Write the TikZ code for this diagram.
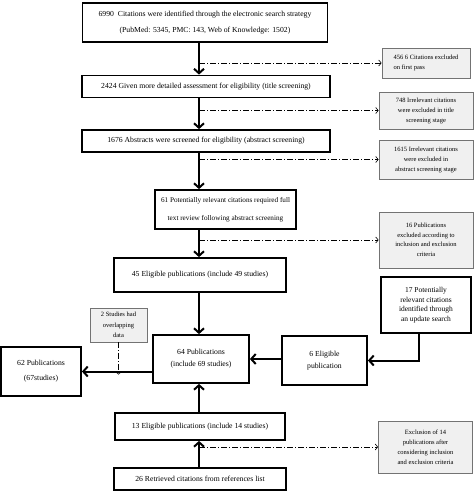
\documentclass[tikz,border=0pt]{standalone}
\usepackage{fontspec}
\setmainfont{Liberation Serif}
\usetikzlibrary{arrows.meta}
\begin{document}
\begin{tikzpicture}[x=1pt,y=-1pt,
 mainbox/.style={draw=black,line width=1.8pt,fill=white,align=center,inner sep=1pt,font=\fontsize{7.7}{10}\selectfont},
 greybox/.style={draw=black!55,line width=0.8pt,fill=black!6,align=center,inner sep=1pt,font=\fontsize{6.5}{10}\selectfont},
 mainarrow/.style={line width=2pt,-{Straight Barb[length=4.5pt,width=10pt]}},
 ddarrow/.style={line width=0.6pt,dash pattern=on 6pt off 2pt on 1pt off 2pt,-{Straight Barb[length=2.5pt,width=6pt]}},
]
\useasboundingbox (0,0) rectangle (475,493);
\coordinate (trunk) at (199,0);
\coordinate (upd) at (419,0);

\node[mainbox,minimum width=245pt,minimum height=39pt,font=\fontsize{7.7}{16}\selectfont] (b1) at (205,22.5)
 {6990\ \ Citations were identified through the electronic search strategy\\(PubMed: 5345, PMC: 143, Web of Knowledge: 1502)};
\node[greybox,minimum width=88pt,minimum height=30pt,align=left] (x1) at (426,63)
 {456 6 Citations excluded\\on first pass};
\node[mainbox,minimum width=248pt,minimum height=22pt] (b2) at (206,86.5)
 {2424 Given more detailed assessment for eligibility (title screening)};
\node[greybox,minimum width=94pt,minimum height=37pt] (x2) at (426,110.5)
 {748 Irrelevant citations\\were excluded in title\\screening stage};
\node[mainbox,minimum width=248pt,minimum height=22pt] (b3) at (206,141)
 {1676 Abstracts were screened for eligibility (abstract screening)};
\node[greybox,minimum width=94pt,minimum height=39pt] (x3) at (426,159.5)
 {1615 Irrelevant citations\\were excluded in\\abstract screening stage};
\node[mainbox,minimum width=141pt,minimum height=39pt,font=\fontsize{7.2}{18}\selectfont] (b4) at (225.5,209.5)
 {61 Potentially relevant citations required full\\text review following abstract screening};
\node[greybox,minimum width=94pt,minimum height=56pt,font=\fontsize{6.5}{9.5}\selectfont] (x4) at (426,240)
 {16 Publications\\excluded according to\\inclusion and exclusion\\criteria};
\node[mainbox,minimum width=172pt,minimum height=34pt] (b5) at (200,275)
 {45 Eligible publications (include 49 studies)};
\node[mainbox,minimum width=90pt,minimum height=56pt,font=\fontsize{7.5}{9.5}\selectfont] (b8) at (426,305)
 {17 Potentially\\relevant citations\\identified through\\an update search};
\node[greybox,minimum width=57pt,minimum height=34pt,font=\fontsize{6.5}{10.5}\selectfont] (x5) at (118.5,325)
 {2 Studies had\\overlapping\\data};
\node[mainbox,minimum width=96pt,minimum height=48pt,font=\fontsize{7.7}{12}\selectfont] (b6) at (201,359)
 {64 Publications\\(include 69 studies)};
\node[mainbox,minimum width=85pt,minimum height=49pt,font=\fontsize{7.7}{12}\selectfont] (b7) at (324.5,360.5)
 {6 Eligible\\publication};
\node[mainbox,minimum width=80pt,minimum height=49pt,font=\fontsize{7.7}{15}\selectfont] (b9) at (41,371.5)
 {62 Publications\\(67studies)};
\node[mainbox,minimum width=170pt,minimum height=27pt] (b10) at (200,426.5)
 {13 Eligible publications (include 14 studies)};
\node[greybox,minimum width=94pt,minimum height=52pt,font=\fontsize{6.5}{10}\selectfont] (x6) at (425.5,447)
 {Exclusion of 14\\publications after\\considering inclusion\\and exclusion criteria};
\node[mainbox,minimum width=172pt,minimum height=22pt] (b11) at (200,479)
 {26 Retrieved citations from references list};

% main trunk
\draw[mainarrow] (trunk |- b1.south) -- (trunk |- b2.north);
\draw[mainarrow] (trunk |- b2.south) -- (trunk |- b3.north);
\draw[mainarrow] (trunk |- b3.south) -- (trunk |- b4.north);
\draw[mainarrow] (trunk |- b4.south) -- (trunk |- b5.north);
\draw[mainarrow] (trunk |- b5.south) -- (trunk |- b6.north);
\draw[mainarrow] (trunk |- b10.north) -- (trunk |- b6.south);
\draw[mainarrow] (trunk |- b11.north) -- (trunk |- b10.south);
\draw[mainarrow] (b7.west |- b6.east) -- (b6.east);
\draw[mainarrow] (b8.south -| upd) -- (upd |- b7.east) -- (b7.east);
\draw[mainarrow] (b6.west |- b9.east) -- (b9.east);

% exclusions
\draw[ddarrow] (trunk |- x1.west) -- (x1.west);
\draw[ddarrow] (trunk |- x2.west) -- (x2.west);
\draw[ddarrow] (trunk |- x3.west) -- (x3.west);
\draw[ddarrow] (trunk |- x4.west) -- (x4.west);
\draw[ddarrow] (trunk |- x6.west) -- (x6.west);
\draw[ddarrow] (x5.south) -- ([yshift=-3pt]x5.south |- b9.east);
\end{tikzpicture}
\end{document}
